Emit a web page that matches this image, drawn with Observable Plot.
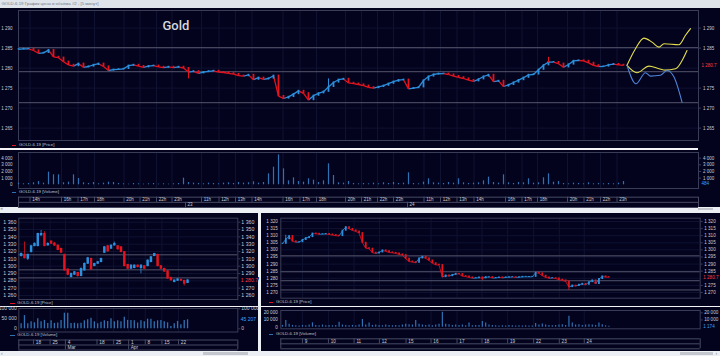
<!DOCTYPE html>
<html><head><meta charset="utf-8">
<script src="https://cdn.jsdelivr.net/npm/d3@7"></script>
<script src="https://cdn.jsdelivr.net/npm/@observablehq/plot@0.6"></script>
<style>
html,body{margin:0;padding:0;background:#eceff3;overflow:hidden}
#root{position:relative;width:720px;height:356px;overflow:hidden;background:#eceff3;font-family:"Liberation Sans",Arial,sans-serif}
.abs{position:absolute}
.t{position:absolute;white-space:nowrap;line-height:1;color:#c8ccd6}
</style></head><body><div id="root"></div>
<script>
// ---------- DATA ----------
// Top chart: 5-minute GOLD-6.19, sampled closes
const topClose = [
1284.7,1284.8,1284.8,1284.4,1283.7,1283.8,1284.5,1282.8,1282.6,1281.6,
1280.8,1280.5,1281.1,1280.2,1280.4,1280.8,1281.1,1280.4,1279.4,1279.6,
1279.7,1279.8,1280.6,1280.8,1280.5,1280.2,1280.5,1280.6,1280.3,1280.1,
1280.3,1280.1,1280.3,1280.0,1279.0,1279.2,1278.7,1279.0,1279.2,1279.3,
1279.0,1278.9,1278.7,1278.5,1278.1,1278.0,1278.3,1277.1,1277.6,1277.2,
1277.4,1278.1,1273.0,1272.4,1272.8,1273.5,1274.3,1273.7,1272.0,1273.1,
1273.7,1274.1,1275.3,1276.4,1277.1,1277.3,1276.3,1276.1,1275.9,1275.6,
1275.2,1275.0,1275.3,1275.6,1276.1,1276.6,1277.0,1277.1,1274.8,1275.0,
1275.2,1276.9,1277.9,1278.4,1278.6,1278.6,1278.4,1278.0,1277.7,1277.4,
1277.0,1276.7,1277.2,1277.9,1278.3,1276.6,1276.8,1275.4,1275.8,1276.4,
1277.0,1277.6,1278.3,1278.4,1279.6,1280.7,1281.5,1281.5,1281.1,1280.2,
1280.9,1281.8,1281.9,1281.8,1281.3,1280.7,1280.4,1280.4,1280.8,1281.0,
1280.8,1280.7];
const topWickIdx = [34, 62, 106];
const topWickLow = [1277.3, 1275.2, 1281.3];
const topWickHigh = [1280.0, 1277.3, 1282.7];
const topVol = [
250,150,200,300,500,250,1900,1500,1500,300,
400,1500,950,300,200,350,150,250,400,350,
200,150,100,200,150,100,150,200,100,150,
100,150,200,1000,350,250,200,150,250,200,
150,250,300,200,350,250,300,450,250,350,
1650,2650,4500,2400,600,1050,500,400,900,700,
350,600,3150,1400,300,250,500,200,150,200,
150,250,150,300,200,350,200,250,1800,200,
150,400,900,300,250,200,350,250,900,300,
200,250,300,600,1150,350,250,1500,300,200,
350,300,900,250,300,1050,1650,400,500,200,
150,250,200,150,300,150,200,150,200,150,
250,484];
const topLevels = [1285.1, 1279.1, 1271.35];
const topPriceTicks = [1265,1270,1275,1280,1285,1290];
const topPriceTicksR = [1265,1270,1275,1285,1290];
const topVolTicks = [0,1000,2000,3000,4000];
const topVolTicksR = [1000,2000,3000,4000];
const topTickIdx = [2.3,8.6,11.9,15.2,21.1,24.3,27.6,30.7,36.6,40.1,43.4,46.7,52.9,56.3,59.6,65.4,68.6,71.8,75,81.1,84.4,87.7,91.1,97.4,100.7,103.8,109.8,113.1,116.4,119.7];
const topTickLabels = ["14h","16h","17h","18h","20h","21h","22h","23h","11h","12h","13h","14h","16h","17h","18h","20h","21h","22h","23h","11h","12h","13h","14h","16h","17h","18h","20h","21h","22h","23h"];
const topDayIdx = [33.4, 77.8];
const topDayLabels = ["23","24"];
// forecast curves
const fcUpperX = [121.7,123.4,125.1,126.7,128.1,129.1,132.1,133.4,134.4];
const fcUpperY = [1280.7,1284.85,1287.5,1286.5,1285.25,1286.1,1285.85,1288.2,1289.85];
const fcLowerX = [121.7,123.7,126.1,128.1,129.4,131.4,133.7];
const fcLowerY = [1280.7,1278.85,1280.5,1279.85,1279.5,1279.85,1284.4];
const fcBlueX = [121.7,123.5,125.4,126.4,128.4,129.7,131.1,132.7];
const fcBlueY = [1280.7,1276.1,1278.85,1278.0,1278.2,1279.4,1277.75,1271.5];

// Bottom-left: daily candles
const blO = [1313.7,1315.5,1310.0,1319.1,1327.3,1327.3,1341.9,1344.1,1328.2,1333.7,1331.0,1328.2,1323.7,1315.5,1295.5,1285.0,1288.2,1290.9,1286.4,1294.1,1303.2,1310.0,1300.0,1303.2,1305.5,1318.2,1327.3,1323.7,1328.2,1327.3,1325.9,1319.1,1301.8,1296.4,1297.3,1300.9,1297.3,1300.0,1300.0,1305.5,1313.7,1315.5,1300.0,1296.4,1293.0,1284.1,1278.2,1280.0,1281.5,1280.0,1277.0];
const blC = [1316.8,1310.9,1315.5,1327.3,1330.5,1344.1,1344.1,1327.3,1330.5,1330.5,1328.0,1322.0,1318.2,1294.1,1288.2,1289.6,1291.8,1286.4,1296.4,1303.2,1310.9,1295.5,1303.2,1305.5,1310.0,1325.9,1320.0,1328.2,1330.5,1322.8,1319.1,1300.0,1296.4,1300.9,1300.9,1298.6,1300.9,1296.4,1307.7,1312.3,1316.8,1300.0,1296.4,1292.5,1283.0,1280.5,1280.5,1282.0,1280.0,1276.0,1280.7];
const blH = [1318.0,1332.8,1316.5,1328.5,1332.0,1345.0,1348.7,1347.0,1332.0,1334.5,1332.5,1329.0,1324.5,1316.5,1296.5,1290.5,1292.8,1291.5,1297.5,1304.5,1312.0,1311.0,1304.0,1306.5,1311.0,1327.0,1328.5,1329.0,1333.0,1328.0,1326.5,1320.0,1302.5,1301.8,1301.8,1301.5,1301.8,1300.8,1308.5,1313.0,1317.5,1316.2,1301.0,1297.2,1293.8,1284.8,1281.2,1282.8,1282.2,1280.8,1281.5];
const blL = [1312.5,1310.0,1307.7,1318.0,1326.5,1326.5,1341.0,1326.5,1327.5,1329.8,1327.2,1321.2,1317.5,1293.2,1287.0,1284.0,1287.4,1285.0,1285.6,1293.3,1302.4,1294.6,1299.2,1302.4,1304.7,1317.4,1319.2,1322.9,1327.4,1322.0,1318.3,1299.2,1295.6,1295.6,1296.5,1297.8,1289.6,1295.6,1299.2,1304.7,1312.9,1299.2,1295.6,1291.7,1282.2,1279.7,1277.4,1279.2,1279.2,1273.0,1276.2];
const blV = [25000,66000,25000,35000,30000,50000,35000,42000,26000,40000,27000,29000,42000,78000,78000,26000,28000,25000,28000,40000,45000,53000,35000,25000,33000,40000,37000,50000,35000,40000,35000,58000,42000,42000,40000,29000,40000,35000,48000,48000,35000,40000,42000,35000,30000,12000,25000,37000,20000,42000,45207];
const blLevels = [1315.5, 1295.0, 1284.0];
const blPriceTicks = [1260,1270,1280,1290,1300,1310,1320,1330,1340,1350,1360];
const blPriceTicksR = [1260,1270,1290,1300,1310,1320,1330,1340,1350,1360];
const blVolTicks = [0,50000,100000];
const blVolTicksR = [0,100000];
const blTickIdx = [3.7,8.7,13.3,22.8,27.8,32.3,37.3,42.3,47.3];
const blTickLabels = ["18","25","4","18","25","1","8","15","22"];
const blMonthIdx = [13.3, 32.3];
const blMonthLabels = ["Mar","Apr"];

// Bottom-right: hourly, sampled closes
const brClose = [
1304.3,1307.5,1309.7,1306.0,1305.4,1305.4,1307.0,1308.3,1309.0,1311.5,
1311.3,1311.0,1311.0,1311.2,1310.8,1310.4,1310.0,1309.7,1313.5,1316.0,
1314.8,1313.7,1313.0,1311.8,1305.0,1301.2,1300.8,1298.0,1297.5,1298.2,
1299.6,1299.0,1298.2,1297.9,1297.5,1296.8,1296.3,1293.7,1291.8,1291.4,
1290.9,1294.0,1295.2,1294.0,1292.5,1290.6,1289.5,1289.3,1280.8,1282.0,
1281.5,1282.4,1283.1,1283.0,1281.5,1281.2,1280.6,1280.1,1280.1,1280.5,
1280.0,1280.8,1280.8,1280.2,1280.2,1280.6,1280.3,1280.6,1280.8,1280.8,
1280.6,1280.7,1281.0,1281.0,1281.0,1281.0,1283.9,1283.5,1281.8,1280.6,
1280.1,1280.1,1279.8,1279.0,1278.5,1277.8,1273.8,1274.9,1274.5,1275.4,
1276.1,1275.4,1277.3,1278.5,1276.0,1279.5,1281.3,1280.8,1280.7];
const brWickIdx = [1, 60, 86];
const brWickLow = [1304.5, 1278.5, 1271.4];
const brWickHigh = [1310.3, 1280.8, 1275.0];
const brVol = [
2500,9300,4000,2500,2000,1500,2500,2000,3000,6100,
2500,2000,3000,2000,2500,2000,2500,7000,3000,2500,
2000,2500,2000,3000,10700,3000,6000,2500,3000,2500,
2000,3000,2500,2000,2500,2000,3000,4000,3500,3000,
9300,4000,3000,2500,3000,2000,3000,4000,20800,4000,
3500,2500,3000,2500,3000,2000,6000,2000,2500,2500,
8000,6000,3000,2500,2000,1500,2000,1500,2500,2000,
1500,2000,1500,2000,1500,1500,5000,3000,4500,3000,
2500,2000,2500,3000,3500,2500,15300,6000,3000,3500,
2500,3000,3500,3000,2500,6000,3500,2000,1174];
const brLevels = [1295.8, 1284.6, 1278.3, 1271.8];
const brPriceTicks = [1270,1275,1280,1285,1290,1295,1300,1305,1310,1315,1320];
const brPriceTicksR = [1270,1275,1285,1290,1295,1300,1305,1310,1315,1320];
const brVolTicks = [0,10000,20000];
const brVolTicksR = [10000,20000];
const brTickIdx = [6,13.8,21.5,29.1,37.1,44.6,52.4,59.9,67.6,75.4,83.1,90.6];
const brTickLabels = ["9","10","11","12","15","16","17","18","19","22","23","24"];

// ---------- STYLE ----------
const GRID="#0f1231", FRAME="#3a3d57", LEVEL="#5d5f75", RED="#e3141f", BLUE="#2b8fdc",
      VOLC="#2f72b4", YEL="#e6e04c", FCBLUE="#4f84d8", TXT="#c8ccd6", AXL="#474a62", DARK="#03031e";
const fmt = d => d3.format(",")(d).replace(/,/g, " ");
const st = fs => ({background:"transparent", color:TXT, fontSize: fs+"px", fontFamily:"Liberation Sans, Arial, sans-serif", overflow:"visible"});
const root = document.getElementById("root");
function box(l,t,w,h,bg){const e=document.createElement("div");e.className="abs";Object.assign(e.style,{left:l+"px",top:t+"px",width:w+"px",height:h+"px",background:bg});root.appendChild(e);return e;}
function txt(s,l,t,size,color,extra){const e=document.createElement("div");e.className="t";e.textContent=s;Object.assign(e.style,{left:l+"px",top:t+"px",fontSize:size+"px",color:color||TXT},extra||{});root.appendChild(e);return e;}
function place(svg,l,t,w,h){const e=document.createElement("div");e.className="abs";Object.assign(e.style,{left:l+"px",top:t+"px",width:w+"px",height:h+"px"});e.appendChild(svg);root.appendChild(e);}
function legend(x,y,color,label){box(x,y-0.5,4.5,1.1,color);txt(label,x+7.3,y-2.3,4.3,"#bfc3cd");}
const dir = r => r.c >= r.o ? BLUE : RED;
const ident = v => v;
// value label at the right edge of a panel
const tagMarks = (val, xEnd, color, dy = 0) => [
  Plot.text([val],{x:()=>xEnd,y:ident,text:fmt,dx:3,dy,textAnchor:"start",fill:color,stroke:DARK,strokeWidth:2,paintOrder:"stroke"})
];

// ---------- WINDOWS ----------
box(0,0,720,7.5,"#dfe3ea");
txt("GOLD-6.19 График цены и объёма #2 - [5 минут]",1.5,1.7,4.3,"#737a86");
box(0,7.5,720,199.5,DARK);
box(0,213,257.5,137.5,DARK);
box(260.5,213,459.5,137.5,DARK);
box(0,148.4,698,1.4,"#f4f4f6");
box(0,306,257.5,1.3,"#f4f4f6");
box(260.5,305.6,459.5,1.3,"#f4f4f6");
box(698,207.6,15,2.8,"#c4c7ce");
box(203,351.5,45,3,"#c4c7ce");
box(680,351.5,33,3,"#c4c7ce");
txt("«",0.5,207.2,4.5,"#7a7f88");
txt("‹",1,350.6,5,"#7a7f88");
txt("›",715.5,350.6,5,"#7a7f88");

// ---------- TOP PRICE ----------
const topRows = topClose.map((c,i)=>({i,c,o:i?topClose[i-1]:c}));
const topX = {domain:[0,136], axis:null};
place(Plot.plot({
  width:720,height:134,marginLeft:18,marginRight:22,marginTop:2,marginBottom:2,
  x:topX, y:{domain:[1261.9,1294.4],axis:null}, color:{type:"identity"}, style:st(4.5),
  marks:[
    Plot.gridX(topTickIdx,{stroke:GRID,strokeOpacity:1}),
    Plot.gridY(topPriceTicks,{stroke:GRID,strokeOpacity:1}),
    Plot.ruleY(topLevels,{stroke:LEVEL,strokeWidth:0.9}),
    Plot.frame({stroke:FRAME}),
    Plot.axisY(topPriceTicks,{anchor:"left",tickSize:0,tickPadding:6,tickFormat:fmt}),
    Plot.axisY(topPriceTicksR,{anchor:"right",tickSize:2,tickPadding:2.5,tickFormat:fmt,stroke:FRAME}),
    Plot.link(topRows.slice(1),{x1:r=>r.i-1,y1:"o",x2:"i",y2:"c",stroke:dir,strokeWidth:1.3}),
    Plot.ruleX(topRows,{x:"i",y1:r=>Math.max(r.o,r.c),y2:r=>Math.min(r.o,r.c),stroke:dir,strokeWidth:1.8,insetTop:-0.6,insetBottom:-0.6}),
    Plot.ruleX(topWickIdx,{x:ident,y1:(v,k)=>topWickHigh[k],y2:(v,k)=>topWickLow[k],stroke:(v,k)=>k===1?BLUE:RED,strokeWidth:1}),
    Plot.line(fcUpperX.map((x,k)=>({x,y:fcUpperY[k]})),{x:"x",y:"y",stroke:YEL,strokeWidth:1.1,curve:"monotone-x"}),
    Plot.line(fcLowerX.map((x,k)=>({x,y:fcLowerY[k]})),{x:"x",y:"y",stroke:YEL,strokeWidth:1.1,curve:"monotone-x"}),
    Plot.line(fcBlueX.map((x,k)=>({x,y:fcBlueY[k]})),{x:"x",y:"y",stroke:FCBLUE,strokeWidth:1.1,curve:"monotone-x"}),
    ...tagMarks(topClose[topClose.length-1],136,"#ff3b3b")
  ]}),0,8,720,134);
txt("Gold",162.5,19.2,13,"#d3d6dd",{fontFamily:"Roboto, 'Liberation Sans', sans-serif",fontWeight:"500"});
legend(11.7,145,RED,"GOLD-6.19 [Price]");

// ---------- TOP VOLUME ----------
place(Plot.plot({
  width:720,height:40,marginLeft:18,marginRight:22,marginTop:2,marginBottom:2,
  x:topX, y:{domain:[-556,4857],axis:null}, style:st(4.5),
  marks:[
    Plot.gridX(topTickIdx,{stroke:GRID,strokeOpacity:1}),
    Plot.frame({stroke:FRAME}),
    Plot.axisY(topVolTicks,{anchor:"left",tickSize:0,tickPadding:6,tickFormat:fmt}),
    Plot.axisY(topVolTicksR,{anchor:"right",tickSize:2,tickPadding:2.5,tickFormat:fmt,stroke:FRAME}),
    Plot.ruleX(topVol,{x:(v,i)=>i,y1:0,y2:ident,stroke:VOLC,strokeWidth:1.2}),
    ...tagMarks(topVol[topVol.length-1],136,"#3aa2ff",2)
  ]}),0,150,720,40);
legend(11.7,192.3,VOLC,"GOLD-6.19 [Volume]");

// ---------- TOP TIME AXIS ----------
place(Plot.plot({
  width:720,height:12,marginLeft:18,marginRight:22,marginTop:0,marginBottom:0,
  x:topX, y:{domain:[0,2],range:[0.7,11],axis:null}, style:st(4.5),
  marks:[
    Plot.ruleY([0,1,2],{stroke:AXL}),
    Plot.ruleX([0,136],{y1:0,y2:2,stroke:AXL}),
    Plot.ruleX(topTickIdx,{y1:0,y2:1,stroke:AXL}),
    Plot.text(topTickLabels,{x:(v,k)=>topTickIdx[k],y:0.5,dx:2.3,textAnchor:"start"}),
    Plot.ruleX(topDayIdx,{y1:1,y2:2,stroke:AXL}),
    Plot.text(topDayLabels,{x:(v,k)=>topDayIdx[k],y:1.5,dx:2,textAnchor:"start"})
  ]}),0,196,720,12);

// ---------- BOTTOM-LEFT ----------
const bl = blO.map((o,i)=>({i,o,c:blC[i],h:blH[i],l:blL[i]}));
const blX = {domain:[-0.7,65.1],axis:null};
place(Plot.plot({
  width:258,height:90,marginLeft:18.3,marginRight:20.7,marginTop:4.7,marginBottom:4,
  x:blX, y:{domain:[1254.5,1365.5],axis:null}, color:{type:"identity"}, style:st(5.2),
  marks:[
    Plot.gridX(blTickIdx,{stroke:GRID,strokeOpacity:1}),
    Plot.gridY(blPriceTicks,{stroke:GRID,strokeOpacity:1}),
    Plot.ruleY(blLevels,{stroke:LEVEL,strokeWidth:0.9}),
    Plot.frame({stroke:FRAME}),
    Plot.axisY(blPriceTicks,{anchor:"left",tickSize:0,tickPadding:2.5,tickFormat:fmt}),
    Plot.axisY(blPriceTicksR,{anchor:"right",tickSize:2,tickPadding:1.5,tickFormat:fmt,stroke:FRAME}),
    Plot.ruleX(bl,{x:"i",y1:"h",y2:"l",stroke:dir,strokeWidth:0.8}),
    Plot.ruleX(bl,{x:"i",y1:r=>Math.max(r.o,r.c),y2:r=>Math.min(r.o,r.c),stroke:dir,strokeWidth:2.5,insetTop:-0.4,insetBottom:-0.4}),
    ...tagMarks(blC[blC.length-1],65.1,"#ff3b3b")
  ]}),0,213,258,90);
legend(10,303.2,RED,"GOLD-6.19 [Price]");
place(Plot.plot({
  width:258,height:28,marginLeft:18.3,marginRight:20.7,marginTop:2,marginBottom:2.5,
  x:blX, y:{domain:[-16000,101500],axis:null}, style:st(5),
  marks:[
    Plot.gridX(blTickIdx,{stroke:GRID,strokeOpacity:1}),
    Plot.frame({stroke:FRAME}),
    Plot.axisY(blVolTicks,{anchor:"left",tickSize:0,tickPadding:2,tickFormat:fmt}),
    Plot.axisY(blVolTicksR,{anchor:"right",tickSize:2,tickPadding:1.5,tickFormat:fmt,stroke:FRAME}),
    Plot.ruleX(blV,{x:(v,i)=>i,y1:0,y2:ident,stroke:VOLC,strokeWidth:1.3}),
    ...tagMarks(blV[blV.length-1],65.1,"#3aa2ff")
  ]}),0,306,258,28);
legend(10,335,VOLC,"GOLD-6.19 [Volume]");
place(Plot.plot({
  width:258,height:11,marginLeft:18.3,marginRight:20.7,marginTop:0,marginBottom:0,
  x:blX, y:{domain:[0,2],range:[0.5,10.5],axis:null}, style:st(4.8),
  marks:[
    Plot.ruleY([0,1,2],{stroke:AXL}),
    Plot.ruleX([-0.7,65.1],{y1:0,y2:2,stroke:AXL}),
    Plot.ruleX(blTickIdx,{y1:0,y2:1,stroke:AXL}),
    Plot.text(blTickLabels,{x:(v,k)=>blTickIdx[k],y:0.5,dx:2.3,textAnchor:"start"}),
    Plot.ruleX(blMonthIdx,{y1:1,y2:2,stroke:AXL}),
    Plot.text(blMonthLabels,{x:(v,k)=>blMonthIdx[k],y:1.5,dx:2,textAnchor:"start"})
  ]}),0,338.5,258,11);

// ---------- BOTTOM-RIGHT ----------
const brRows = brClose.map((c,i)=>({i,c,o:i?brClose[i-1]:c}));
const brX = {domain:[-0.5,125.4],axis:null};
place(Plot.plot({
  width:460,height:90,marginLeft:20.3,marginRight:20.3,marginTop:4.7,marginBottom:5.3,
  x:brX, y:{domain:[1266,1322.3],axis:null}, color:{type:"identity"}, style:st(4.6),
  marks:[
    Plot.gridX(brTickIdx,{stroke:GRID,strokeOpacity:1}),
    Plot.gridY(brPriceTicks,{stroke:GRID,strokeOpacity:1}),
    Plot.ruleY(brLevels,{stroke:LEVEL,strokeWidth:0.9}),
    Plot.frame({stroke:FRAME}),
    Plot.axisY(brPriceTicks,{anchor:"left",tickSize:0,tickPadding:3,tickFormat:fmt}),
    Plot.axisY(brPriceTicksR,{anchor:"right",tickSize:2,tickPadding:2,tickFormat:fmt,stroke:FRAME}),
    Plot.link(brRows.slice(1),{x1:r=>r.i-1,y1:"o",x2:"i",y2:"c",stroke:dir,strokeWidth:0.8}),
    Plot.ruleX(brRows,{x:"i",y1:r=>Math.max(r.o,r.c),y2:r=>Math.min(r.o,r.c),stroke:dir,strokeWidth:1.8,insetTop:-0.5,insetBottom:-0.5}),
    Plot.ruleX(brWickIdx,{x:ident,y1:(v,k)=>brWickHigh[k],y2:(v,k)=>brWickLow[k],stroke:(v,k)=>k===0?BLUE:RED,strokeWidth:0.9}),
    ...tagMarks(brClose[brClose.length-1],125.4,"#ff3b3b")
  ]}),260,213,460,90);
legend(268.7,302.7,RED,"GOLD-6.19 [Price]");
place(Plot.plot({
  width:460,height:22,marginLeft:20.3,marginRight:20.3,marginTop:2,marginBottom:1.7,
  x:brX, y:{domain:[-2220,23200],axis:null}, style:st(4.6),
  marks:[
    Plot.gridX(brTickIdx,{stroke:GRID,strokeOpacity:1}),
    Plot.frame({stroke:FRAME}),
    Plot.axisY(brVolTicks,{anchor:"left",tickSize:0,tickPadding:3,tickFormat:fmt}),
    Plot.axisY(brVolTicksR,{anchor:"right",tickSize:2,tickPadding:2,tickFormat:fmt,stroke:FRAME}),
    Plot.ruleX(brVol,{x:(v,i)=>i,y1:0,y2:ident,stroke:VOLC,strokeWidth:1.2}),
    ...tagMarks(brVol[brVol.length-1],125.4,"#3aa2ff")
  ]}),260,308,460,22);
legend(268.7,334,VOLC,"GOLD-6.19 [Volume]");
place(Plot.plot({
  width:460,height:11,marginLeft:20.3,marginRight:20.3,marginTop:0,marginBottom:0,
  x:brX, y:{domain:[0,2],range:[0.3,10.3],axis:null}, style:st(4.6),
  marks:[
    Plot.ruleY([0,1,2],{stroke:AXL}),
    Plot.ruleX([-0.5,125.4],{y1:0,y2:2,stroke:AXL}),
    Plot.ruleX(brTickIdx,{y1:0,y2:1,stroke:AXL}),
    Plot.text(brTickLabels,{x:(v,k)=>brTickIdx[k],y:0.5,dx:2.3,textAnchor:"start"})
  ]}),260,338,460,11);
</script></body></html>
